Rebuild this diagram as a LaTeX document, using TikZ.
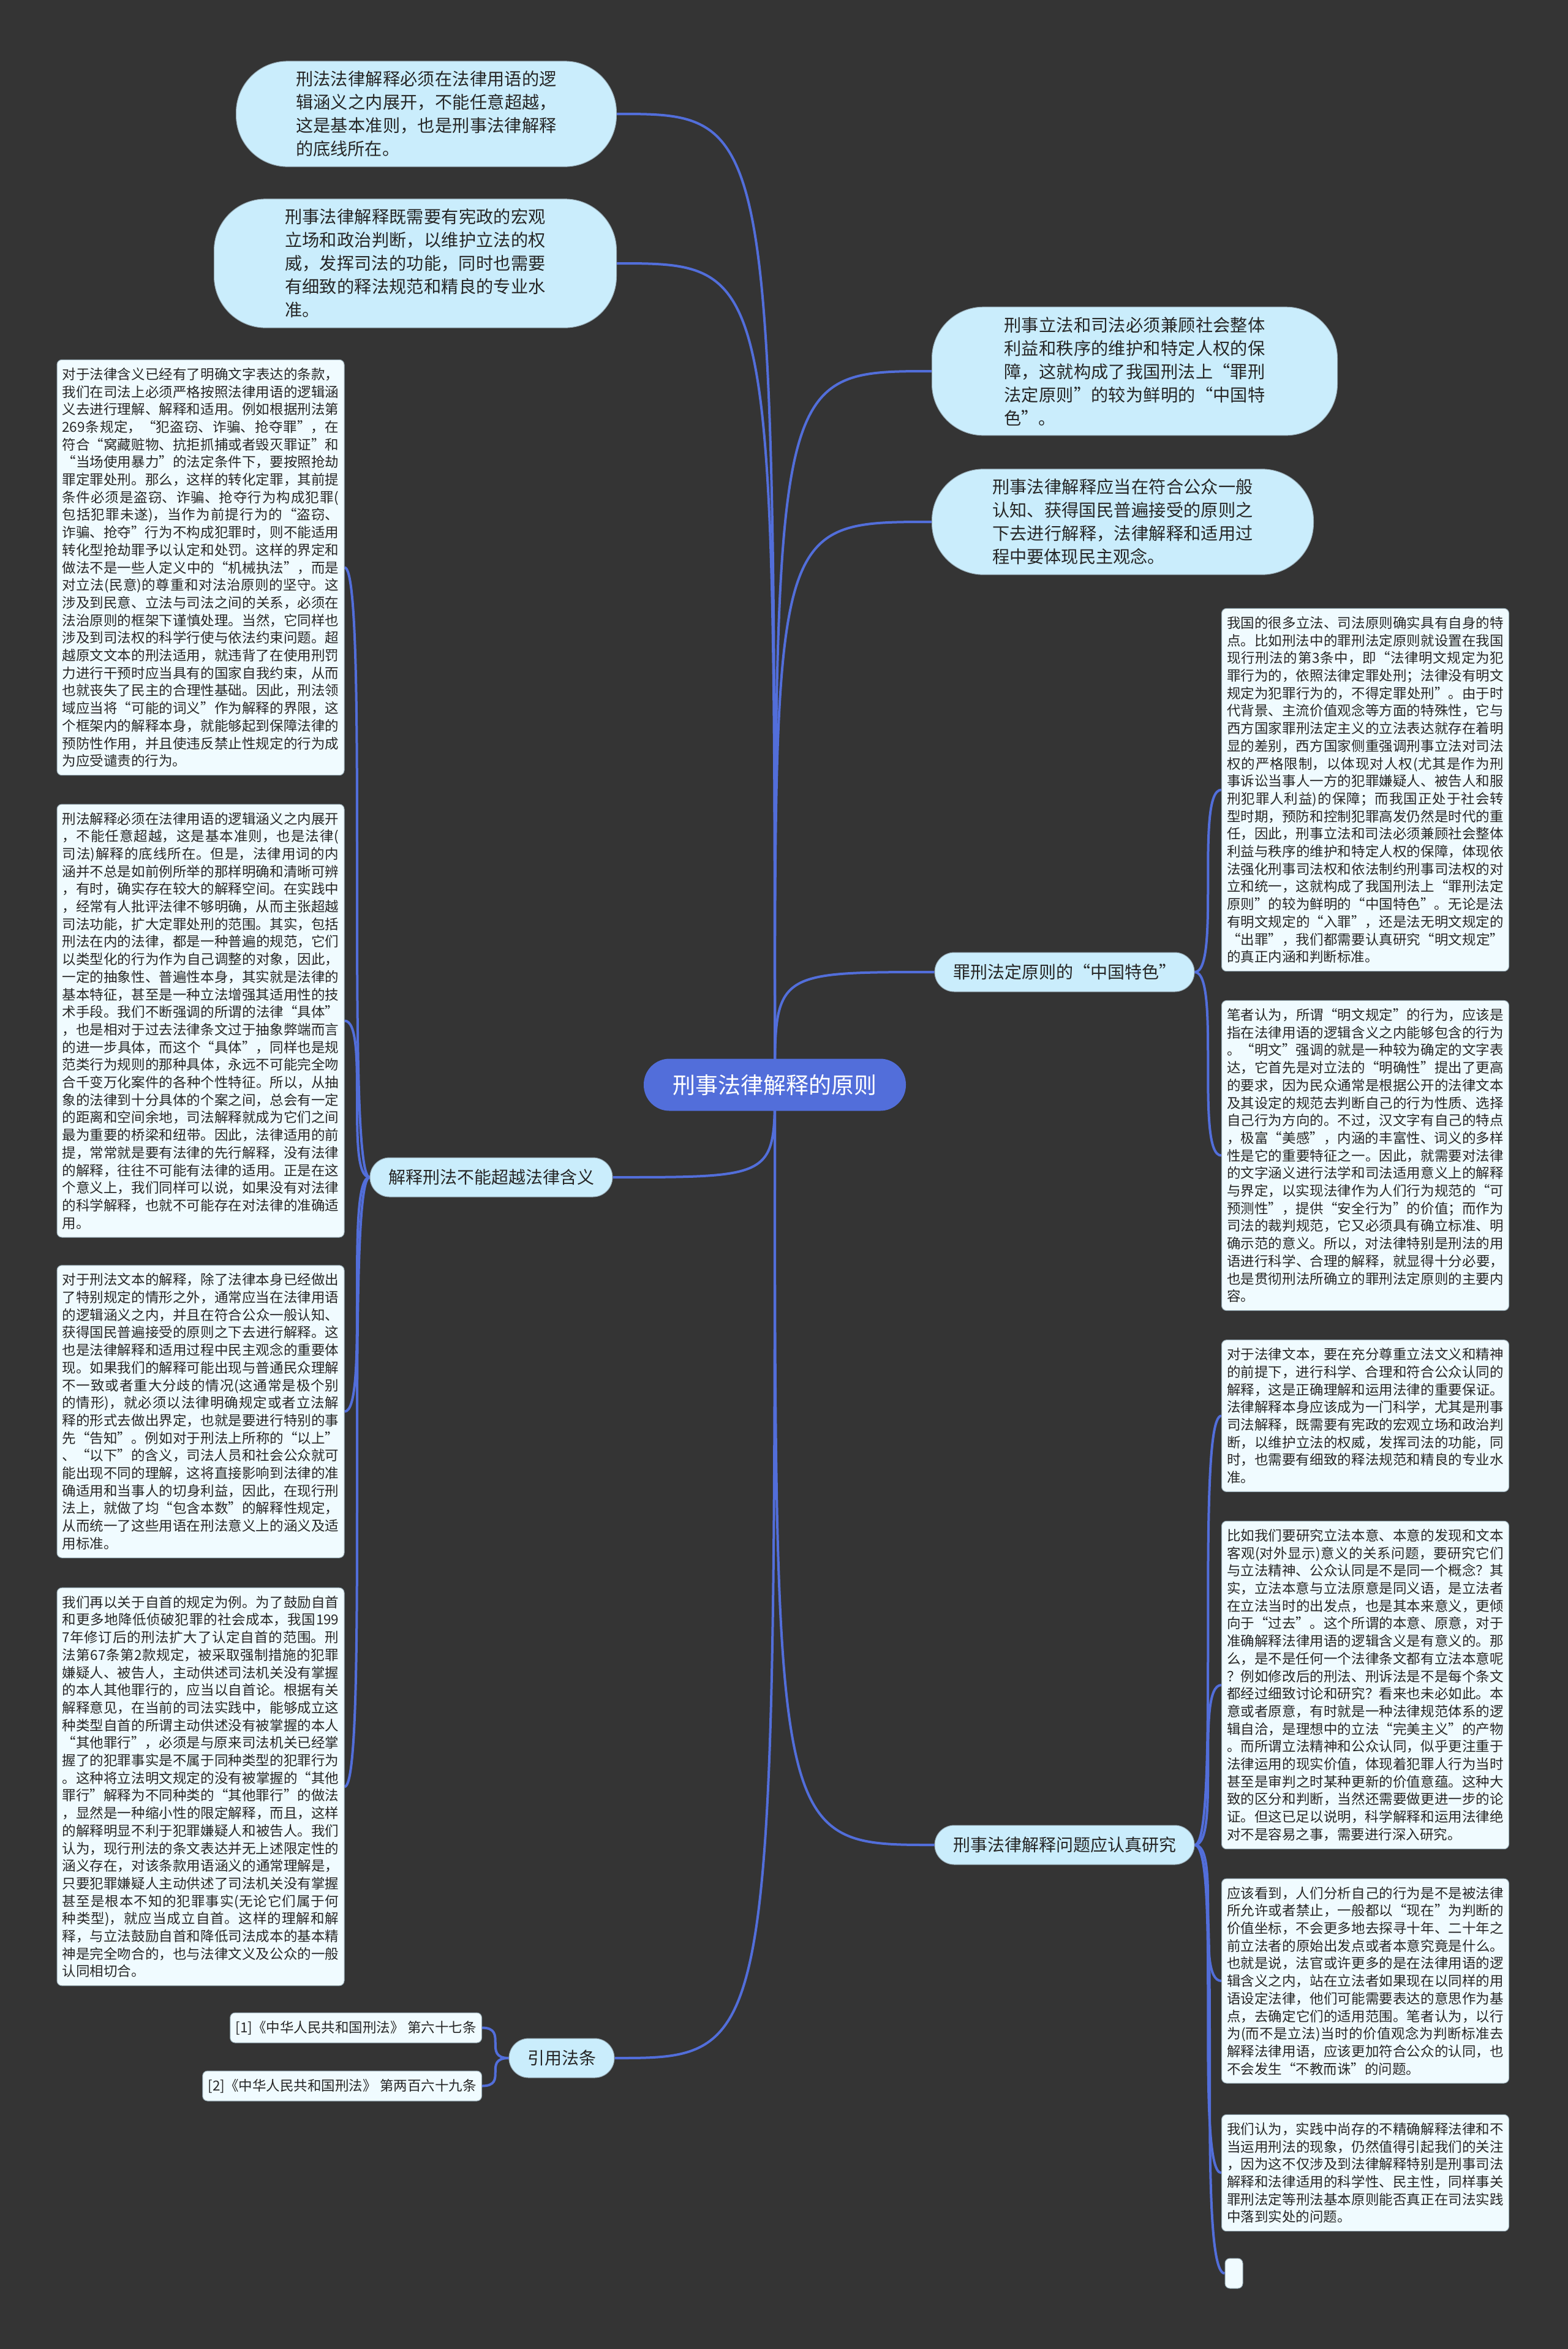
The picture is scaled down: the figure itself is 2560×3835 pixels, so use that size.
\documentclass[tikz,border=0pt]{standalone}
\usepackage{fontspec}
\setmainfont{Noto Sans CJK SC}
\XeTeXlinebreaklocale "zh"
\XeTeXlinebreakskip=0pt plus 2pt
\tolerance=10000
\hbadness=10000
\definecolor{bgc}{RGB}{52,52,52}
\definecolor{lineb}{RGB}{82,110,218}
\definecolor{bub}{RGB}{202,237,252}
\definecolor{blk}{RGB}{240,251,255}
\definecolor{txt}{RGB}{38,38,38}
\definecolor{edge}{RGB}{150,170,180}
\newcommand\NL{\linebreak}
\pgfdeclarelayer{bgl}
\pgfdeclarelayer{lines}
\pgfsetlayers{bgl,lines,main}
\tikzset{
 conn/.style={draw=lineb, line width=2pt},
 bubble/.style={fill=bub, draw=edge, line width=0.5pt, rounded corners=42pt, text=txt, align=justify, text width=213pt, font=\fontsize{14.1pt}{19pt}\selectfont, inner ysep=8pt},
 blockbox/.style={fill=blk, draw=edge, line width=0.5pt, rounded corners=4pt, text=txt, align=justify, text width=226pt, inner xsep=4.25pt, inner ysep=6.5pt, font=\fontsize{11.25pt}{14.35pt}\selectfont},
 branch/.style={fill=bub, draw=edge, line width=0.5pt, rounded corners=16pt, text=txt, minimum height=32pt, inner xsep=15pt, font=\fontsize{14pt}{16pt}\selectfont},
 centre/.style={fill=lineb, rounded corners=21pt, text=white, minimum height=42.5pt, minimum width=214pt, font=\fontsize{18.5pt}{20pt}\selectfont},
 refbox/.style={fill=blk, draw=edge, line width=0.5pt, rounded corners=4pt, text=txt, minimum height=24.5pt, inner xsep=4.5pt, font=\fontsize{11.25pt}{13pt}\selectfont},
}
\begin{document}
\begin{tikzpicture}[x=0.5pt,y=-0.5pt]
\path[use as bounding box] (0,0) rectangle (2560,3835);
\begin{pgfonlayer}{bgl}
\fill[bgc] (0,0) rectangle (2560,3835);
\end{pgfonlayer}

% centre
\node[centre] (c) at (1265,1771) {刑事法律解释的原则};

% top bubbles
\node[bubble, anchor=east, minimum width=310.5pt] (tl1) at (1007,186) {刑法法律解释必须在法律用语的逻\NL 辑涵义之内展开，不能任意超越，\NL 这是基本准则，也是刑事法律解释\NL 的底线所在。};
\node[bubble, anchor=east, minimum width=328.5pt] (tl2) at (1007,430) {刑事法律解释既需要有宪政的宏观\NL 立场和政治判断，以维护立法的权\NL 威，发挥司法的功能，同时也需要\NL 有细致的释法规范和精良的专业水\NL 准。};
\node[bubble, anchor=west, minimum width=331pt] (rt1) at (1521,606) {刑事立法和司法必须兼顾社会整体\NL 利益和秩序的维护和特定人权的保\NL 障，这就构成了我国刑法上“罪刑\NL 法定原则”的较为鲜明的“中国特\NL 色”。};
\node[bubble, anchor=west, minimum width=311.5pt] (rt2) at (1521,852) {刑事法律解释应当在符合公众一般\NL 认知、获得国民普遍接受的原则之\NL 下去进行解释，法律解释和适用过\NL 程中要体现民主观念。};

% branches
\node[branch] (b1) at (1738,1587) {罪刑法定原则的“中国特色”};
\node[branch] (b2) at (802,1922) {解释刑法不能超越法律含义};
\node[branch] (b3) at (1738,3012) {刑事法律解释问题应认真研究};
\node[branch] (b4) at (917,3360) {引用法条};

% left blocks
\node[blockbox] (l1) at (327.5,926.5) {对于法律含义已经有了明确文字表达的条款，\NL
我们在司法上必须严格按照法律用语的逻辑涵\NL
义去进行理解、解释和适用。例如根据刑法第\NL
269条规定，“犯盗窃、诈骗、抢夺罪”，在\NL
符合“窝藏赃物、抗拒抓捕或者毁灭罪证”和\NL
“当场使用暴力”的法定条件下，要按照抢劫\NL
罪定罪处刑。那么，这样的转化定罪，其前提\NL
条件必须是盗窃、诈骗、抢夺行为构成犯罪(\NL
包括犯罪未遂)，当作为前提行为的“盗窃、\NL
诈骗、抢夺”行为不构成犯罪时，则不能适用\NL
转化型抢劫罪予以认定和处罚。这样的界定和\NL
做法不是一些人定义中的“机械执法”，而是\NL
对立法(民意)的尊重和对法治原则的坚守。这\NL
涉及到民意、立法与司法之间的关系，必须在\NL
法治原则的框架下谨慎处理。当然，它同样也\NL
涉及到司法权的科学行使与依法约束问题。超\NL
越原文文本的刑法适用，就违背了在使用刑罚\NL
力进行干预时应当具有的国家自我约束，从而\NL
也就丧失了民主的合理性基础。因此，刑法领\NL
域应当将“可能的词义”作为解释的界限，这\NL
个框架内的解释本身，就能够起到保障法律的\NL
预防性作用，并且使违反禁止性规定的行为成\NL
为应受谴责的行为。};
\node[blockbox] (l2) at (327.5,1666.5) {刑法解释必须在法律用语的逻辑涵义之内展开\NL
，不能任意超越，这是基本准则，也是法律(\NL
司法)解释的底线所在。但是，法律用词的内\NL
涵并不总是如前例所举的那样明确和清晰可辨\NL
，有时，确实存在较大的解释空间。在实践中\NL
，经常有人批评法律不够明确，从而主张超越\NL
司法功能，扩大定罪处刑的范围。其实，包括\NL
刑法在内的法律，都是一种普遍的规范，它们\NL
以类型化的行为作为自己调整的对象，因此，\NL
一定的抽象性、普遍性本身，其实就是法律的\NL
基本特征，甚至是一种立法增强其适用性的技\NL
术手段。我们不断强调的所谓的法律“具体”\NL
，也是相对于过去法律条文过于抽象弊端而言\NL
的进一步具体，而这个“具体”，同样也是规\NL
范类行为规则的那种具体，永远不可能完全吻\NL
合千变万化案件的各种个性特征。所以，从抽\NL
象的法律到十分具体的个案之间，总会有一定\NL
的距离和空间余地，司法解释就成为它们之间\NL
最为重要的桥梁和纽带。因此，法律适用的前\NL
提，常常就是要有法律的先行解释，没有法律\NL
的解释，往往不可能有法律的适用。正是在这\NL
个意义上，我们同样可以说，如果没有对法律\NL
的科学解释，也就不可能存在对法律的准确适\NL
用。};
\node[blockbox] (l3) at (327.5,2304.5) {对于刑法文本的解释，除了法律本身已经做出\NL
了特别规定的情形之外，通常应当在法律用语\NL
的逻辑涵义之内，并且在符合公众一般认知、\NL
获得国民普遍接受的原则之下去进行解释。这\NL
也是法律解释和适用过程中民主观念的重要体\NL
现。如果我们的解释可能出现与普通民众理解\NL
不一致或者重大分歧的情况(这通常是极个别\NL
的情形)，就必须以法律明确规定或者立法解\NL
释的形式去做出界定，也就是要进行特别的事\NL
先“告知”。例如对于刑法上所称的“以上”\NL
、“以下”的含义，司法人员和社会公众就可\NL
能出现不同的理解，这将直接影响到法律的准\NL
确适用和当事人的切身利益，因此，在现行刑\NL
法上，就做了均“包含本数”的解释性规定，\NL
从而统一了这些用语在刑法意义上的涵义及适\NL
用标准。};
\node[blockbox] (l4) at (327.5,2917) {我们再以关于自首的规定为例。为了鼓励自首\NL
和更多地降低侦破犯罪的社会成本，我国199\NL
7年修订后的刑法扩大了认定自首的范围。刑\NL
法第67条第2款规定，被采取强制措施的犯罪\NL
嫌疑人、被告人，主动供述司法机关没有掌握\NL
的本人其他罪行的，应当以自首论。根据有关\NL
解释意见，在当前的司法实践中，能够成立这\NL
种类型自首的所谓主动供述没有被掌握的本人\NL
“其他罪行”，必须是与原来司法机关已经掌\NL
握了的犯罪事实是不属于同种类型的犯罪行为\NL
。这种将立法明文规定的没有被掌握的“其他\NL
罪行”解释为不同种类的“其他罪行”的做法\NL
，显然是一种缩小性的限定解释，而且，这样\NL
的解释明显不利于犯罪嫌疑人和被告人。我们\NL
认为，现行刑法的条文表达并无上述限定性的\NL
涵义存在，对该条款用语涵义的通常理解是，\NL
只要犯罪嫌疑人主动供述了司法机关没有掌握\NL
甚至是根本不知的犯罪事实(无论它们属于何\NL
种类型)，就应当成立自首。这样的理解和解\NL
释，与立法鼓励自首和降低司法成本的基本精\NL
神是完全吻合的，也与法律文义及公众的一般\NL
认同相切合。};

% right blocks
\node[blockbox] (r1) at (2229,1289.5) {我国的很多立法、司法原则确实具有自身的特\NL
点。比如刑法中的罪刑法定原则就设置在我国\NL
现行刑法的第3条中，即“法律明文规定为犯\NL
罪行为的，依照法律定罪处刑；法律没有明文\NL
规定为犯罪行为的，不得定罪处刑”。由于时\NL
代背景、主流价值观念等方面的特殊性，它与\NL
西方国家罪刑法定主义的立法表达就存在着明\NL
显的差别，西方国家侧重强调刑事立法对司法\NL
权的严格限制，以体现对人权(尤其是作为刑\NL
事诉讼当事人一方的犯罪嫌疑人、被告人和服\NL
刑犯罪人利益)的保障；而我国正处于社会转\NL
型时期，预防和控制犯罪高发仍然是时代的重\NL
任，因此，刑事立法和司法必须兼顾社会整体\NL
利益与秩序的维护和特定人权的保障，体现依\NL
法强化刑事司法权和依法制约刑事司法权的对\NL
立和统一，这就构成了我国刑法上“罪刑法定\NL
原则”的较为鲜明的“中国特色”。无论是法\NL
有明文规定的“入罪”，还是法无明文规定的\NL
“出罪”，我们都需要认真研究“明文规定”\NL
的真正内涵和判断标准。};
\node[blockbox] (r2) at (2229,1886.5) {笔者认为，所谓“明文规定”的行为，应该是\NL
指在法律用语的逻辑含义之内能够包含的行为\NL
。“明文”强调的就是一种较为确定的文字表\NL
达，它首先是对立法的“明确性”提出了更高\NL
的要求，因为民众通常是根据公开的法律文本\NL
及其设定的规范去判断自己的行为性质、选择\NL
自己行为方向的。不过，汉文字有自己的特点\NL
，极富“美感”，内涵的丰富性、词义的多样\NL
性是它的重要特征之一。因此，就需要对法律\NL
的文字涵义进行法学和司法适用意义上的解释\NL
与界定，以实现法律作为人们行为规范的“可\NL
预测性”，提供“安全行为”的价值；而作为\NL
司法的裁判规范，它又必须具有确立标准、明\NL
确示范的意义。所以，对法律特别是刑法的用\NL
语进行科学、合理的解释，就显得十分必要，\NL
也是贯彻刑法所确立的罪刑法定原则的主要内\NL
容。};
\node[blockbox] (r3) at (2229,2311.5) {对于法律文本，要在充分尊重立法文义和精神\NL
的前提下，进行科学、合理和符合公众认同的\NL
解释，这是正确理解和运用法律的重要保证。\NL
法律解释本身应该成为一门科学，尤其是刑事\NL
司法解释，既需要有宪政的宏观立场和政治判\NL
断，以维护立法的权威，发挥司法的功能，同\NL
时，也需要有细致的释法规范和精良的专业水\NL
准。};
\node[blockbox] (r4) at (2229,2751) {比如我们要研究立法本意、本意的发现和文本\NL
客观(对外显示)意义的关系问题，要研究它们\NL
与立法精神、公众认同是不是同一个概念？其\NL
实，立法本意与立法原意是同义语，是立法者\NL
在立法当时的出发点，也是其本来意义，更倾\NL
向于“过去”。这个所谓的本意、原意，对于\NL
准确解释法律用语的逻辑含义是有意义的。那\NL
么，是不是任何一个法律条文都有立法本意呢\NL
？例如修改后的刑法、刑诉法是不是每个条文\NL
都经过细致讨论和研究？看来也未必如此。本\NL
意或者原意，有时就是一种法律规范体系的逻\NL
辑自洽，是理想中的立法“完美主义”的产物\NL
。而所谓立法精神和公众认同，似乎更注重于\NL
法律运用的现实价值，体现着犯罪人行为当时\NL
甚至是审判之时某种更新的价值意蕴。这种大\NL
致的区分和判断，当然还需要做更进一步的论\NL
证。但这已足以说明，科学解释和运用法律绝\NL
对不是容易之事，需要进行深入研究。};
\node[blockbox] (r5) at (2229,3234) {应该看到，人们分析自己的行为是不是被法律\NL
所允许或者禁止，一般都以“现在”为判断的\NL
价值坐标，不会更多地去探寻十年、二十年之\NL
前立法者的原始出发点或者本意究竟是什么。\NL
也就是说，法官或许更多的是在法律用语的逻\NL
辑含义之内，站在立法者如果现在以同样的用\NL
语设定法律，他们可能需要表达的意思作为基\NL
点，去确定它们的适用范围。笔者认为，以行\NL
为(而不是立法)当时的价值观念为判断标准去\NL
解释法律用语，应该更加符合公众的认同，也\NL
不会发生“不教而诛”的问题。};
\node[blockbox] (r6) at (2229,3547.5) {我们认为，实践中尚存的不精确解释法律和不\NL
当运用刑法的现象，仍然值得引起我们的关注\NL
，因为这不仅涉及到法律解释特别是刑事司法\NL
解释和法律适用的科学性、民主性，同样事关\NL
罪刑法定等刑法基本原则能否真正在司法实践\NL
中落到实处的问题。};
\node[refbox, minimum width=14.5pt, inner xsep=0pt] (e7) at (2014.5,3711.5) {};

% references
\node[refbox, anchor=east] (ref1) at (787,3310.5) {[1]《中华人民共和国刑法》 第六十七条};
\node[refbox, anchor=east] (ref2) at (787,3405.5) {[2]《中华人民共和国刑法》 第两百六十九条};

% connectors
\begin{pgfonlayer}{lines}
\foreach \t/\a in {tl1/east, tl2/east, rt1/west, rt2/west, b1/west, b2/east, b3/west, b4/east}
  \draw[conn] (c.center) .. controls (c.center |- \t.\a) .. (\t.\a);
\foreach \t in {r1, r2}
  \draw[conn] (b1.east) .. controls (b1.east -| \t.west) and (\t.west -| b1.east) .. (\t.west);
\foreach \t in {r3, r4, r5, r6, e7}
  \draw[conn] (b3.east) .. controls (b3.east -| \t.west) and (\t.west -| b3.east) .. (\t.west);
\foreach \t in {l1, l2, l3, l4}
  \draw[conn] (b2.west) .. controls (b2.west -| \t.east) and (\t.east -| b2.west) .. (\t.east);
\foreach \t in {ref1, ref2}
  \draw[conn] (b4.west) .. controls (b4.west -| \t.east) and (\t.east -| b4.west) .. (\t.east);
\end{pgfonlayer}
\end{tikzpicture}
\end{document}
